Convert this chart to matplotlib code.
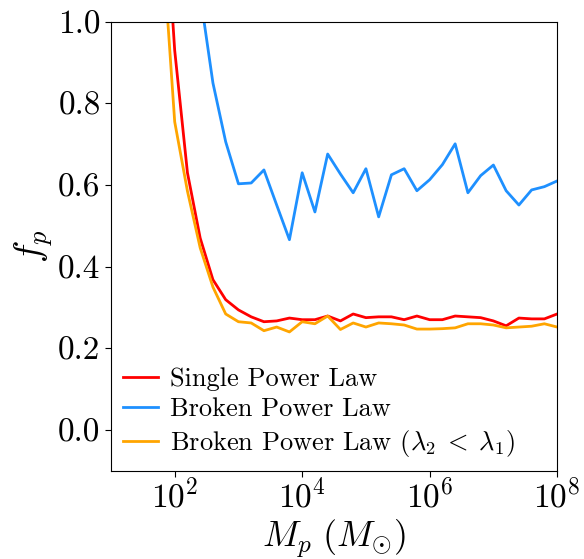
import numpy as np
import matplotlib
matplotlib.use("Agg")
import matplotlib.pyplot as plt
from matplotlib.ticker import FormatStrFormatter

plt.rcParams['font.family'] = 'serif'
plt.rcParams['font.serif'] = ['cmr10', 'DejaVu Serif']
plt.rcParams['mathtext.fontset'] = 'cm'
plt.rcParams['axes.formatter.use_mathtext'] = True
plt.rcParams['axes.unicode_minus'] = False

log_mass = [1.8, 2.0, 2.2, 2.4, 2.6, 2.8, 3.0, 3.2, 3.4, 3.6, 3.8, 4.0, 4.2, 4.4,
            4.6, 4.8, 5.0, 5.2, 5.4, 5.6, 5.8, 6.0, 6.2, 6.4, 6.6, 6.8, 7.0, 7.2,
            7.4, 7.6, 7.8, 8.0]

single_pl = [1.41, 0.93, 0.63, 0.47, 0.368, 0.319, 0.294, 0.277, 0.265, 0.267,
             0.274, 0.270, 0.270, 0.279, 0.267, 0.284, 0.275, 0.277, 0.277, 0.270,
             0.279, 0.270, 0.270, 0.279, 0.277, 0.275, 0.267, 0.255, 0.274, 0.272,
             0.272, 0.284]

broken_pl = [2.6, 2.0, 1.45, 1.066, 0.85, 0.706, 0.603, 0.605, 0.637, 0.551,
             0.466, 0.630, 0.534, 0.676, 0.627, 0.581, 0.640, 0.522, 0.625, 0.640,
             0.586, 0.613, 0.650, 0.701, 0.581, 0.623, 0.649, 0.586, 0.551, 0.588,
             0.596, 0.610]

broken_pl_l2 = [1.21, 0.755, 0.585, 0.446, 0.35, 0.284, 0.265, 0.262, 0.243, 0.252,
                0.240, 0.265, 0.260, 0.279, 0.246, 0.262, 0.252, 0.262, 0.260, 0.257,
                0.247, 0.247, 0.248, 0.250, 0.260, 0.260, 0.257, 0.250, 0.252, 0.254,
                0.260, 0.252]

mass = 10.0 ** np.array(log_mass)

fig = plt.figure(figsize=(5.84, 5.59), dpi=100)
ax = fig.add_axes([0.190, 0.158, 0.764, 0.803])

ax.plot(mass, single_pl, color='red', lw=2, label='Single Power Law')
ax.plot(mass, broken_pl, color='dodgerblue', lw=2, label='Broken Power Law')
ax.plot(mass, broken_pl_l2, color='orange', lw=2,
        label=r'Broken Power Law ($\lambda_2 \;<\; \lambda_1$)')

ax.set_xscale('log')
ax.set_xlim(1e1, 1e8)
ax.set_ylim(-0.1, 1.0)
ax.set_xticks([1e2, 1e4, 1e6, 1e8])
ax.set_yticks([0.0, 0.2, 0.4, 0.6, 0.8, 1.0])
ax.yaxis.set_major_formatter(FormatStrFormatter('%.1f'))
ax.tick_params(axis='both', which='major', labelsize=24, length=4)
ax.tick_params(axis='x', which='major', pad=1)
ax.tick_params(axis='x', which='minor', length=2.5)

ax.set_xlabel(r'$M_p\ (M_{\odot})$', fontsize=26, labelpad=3)
ax.set_ylabel(r'$f_p$', fontsize=27, labelpad=2)

ax.legend(loc='lower left', frameon=False, fontsize=19, handlelength=1.33,
          borderaxespad=0.05, handletextpad=0.45, labelspacing=0.25)

fig.savefig('out.png', dpi=100)
